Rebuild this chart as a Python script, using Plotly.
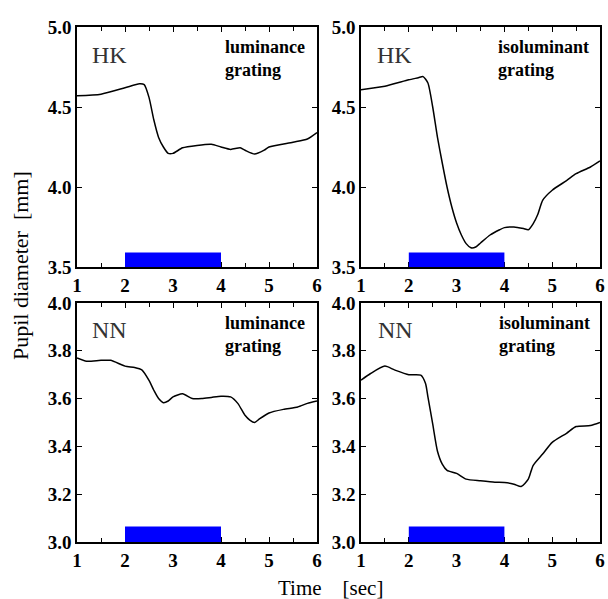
import plotly.graph_objects as go

# ---------------- data ----------------
# HK, luminance grating
t_hk_lum = [1.0, 1.5, 2.0, 2.3, 2.4, 2.5, 2.6, 2.7, 2.8, 2.9, 3.0, 3.2, 3.5, 3.8, 4.0, 4.2, 4.4, 4.5, 4.7, 4.9, 5.0, 5.5, 5.8, 6.0]
d_hk_lum = [4.57, 4.58, 4.62, 4.645, 4.64, 4.56, 4.42, 4.31, 4.25, 4.21, 4.21, 4.245, 4.26, 4.267, 4.25, 4.235, 4.245, 4.23, 4.206, 4.23, 4.25, 4.28, 4.30, 4.34]

# HK, isoluminant grating
t_hk_iso = [1.0, 1.5, 2.0, 2.2, 2.3, 2.4, 2.5, 2.6, 2.7, 2.8, 2.9, 3.0, 3.1, 3.2, 3.3, 3.4, 3.5, 3.7, 3.9, 4.0, 4.2, 4.4, 4.5, 4.6, 4.7, 4.8, 5.0, 5.3, 5.5, 5.8, 6.0]
d_hk_iso = [4.608, 4.63, 4.67, 4.683, 4.69, 4.65, 4.50, 4.31, 4.15, 4.00, 3.875, 3.775, 3.70, 3.646, 3.62, 3.625, 3.65, 3.70, 3.733, 3.746, 3.75, 3.74, 3.733, 3.77, 3.83, 3.917, 3.98, 4.04, 4.083, 4.125, 4.163]

# NN, luminance grating
t_nn_lum = [1.0, 1.2, 1.5, 1.7, 2.0, 2.2, 2.35, 2.5, 2.6, 2.7, 2.8, 2.9, 3.0, 3.2, 3.4, 3.6, 3.8, 4.0, 4.2, 4.35, 4.5, 4.6, 4.7, 4.8, 5.0, 5.3, 5.6, 5.8, 6.0]
d_nn_lum = [3.77, 3.756, 3.76, 3.76, 3.736, 3.73, 3.72, 3.676, 3.635, 3.60, 3.583, 3.59, 3.607, 3.62, 3.60, 3.60, 3.605, 3.61, 3.607, 3.58, 3.53, 3.51, 3.50, 3.515, 3.54, 3.555, 3.565, 3.58, 3.59]

# NN, isoluminant grating
t_nn_iso = [1.0, 1.2, 1.5, 1.7, 2.0, 2.25, 2.35, 2.4, 2.5, 2.6, 2.7, 2.8, 3.0, 3.2, 3.5, 3.8, 4.0, 4.2, 4.35, 4.5, 4.6, 4.8, 5.0, 5.3, 5.5, 5.8, 6.0]
d_nn_iso = [3.677, 3.705, 3.736, 3.72, 3.70, 3.698, 3.663, 3.607, 3.494, 3.38, 3.326, 3.30, 3.287, 3.263, 3.256, 3.25, 3.249, 3.242, 3.232, 3.263, 3.32, 3.368, 3.417, 3.455, 3.483, 3.487, 3.50]

# stimulus period (sec) and marker-bar heights (mm)
stim_period = [2.0, 4.0]
bar_top = [3.59, 3.59, 3.065, 3.065]

subjects = ["HK", "HK", "NN", "NN"]
conditions = ["luminance<br>grating", "isoluminant<br>grating", "luminance<br>grating", "isoluminant<br>grating"]
y_ranges = [[3.5, 5.0], [3.5, 5.0], [3.0, 4.0], [3.0, 4.0]]
y_dticks = [0.5, 0.5, 0.2, 0.2]
x_range = [1, 6]

series = [(t_hk_lum, d_hk_lum), (t_hk_iso, d_hk_iso), (t_nn_lum, d_nn_lum), (t_nn_iso, d_nn_iso)]

# ---------------- layout ----------------
W, H = 608, 599
x_domains = [[77 / W, 317 / W], [361 / W, 600 / W], [77 / W, 317 / W], [361 / W, 600 / W]]
y_domains = [[1 - 267 / H, 1 - 27 / H], [1 - 267 / H, 1 - 27 / H], [1 - 542 / H, 1 - 303 / H], [1 - 542 / H, 1 - 303 / H]]
subj_x = [0.137, 0.142, 0.137, 0.146]
cond_x = [0.61, 0.565, 0.61, 0.57]

tick_font = dict(family="Liberation Serif", size=19, color="black", weight="bold")

fig = go.Figure()
layout = dict(
    width=W, height=H,
    autosize=False,
    margin=dict(l=0, r=0, t=0, b=0, pad=0, autoexpand=False),
    paper_bgcolor="white", plot_bgcolor="white",
    showlegend=False,
    shapes=[], annotations=[],
)

for i, (t, d) in enumerate(series):
    n = "" if i == 0 else str(i + 1)
    xa, ya = "x" + n, "y" + n
    fig.add_trace(go.Scatter(x=t, y=d, mode="lines", xaxis=xa, yaxis=ya,
                             line=dict(color="black", width=1.5, shape="spline", smoothing=0.6),
                             hoverinfo="skip"))
    common = dict(showgrid=False, zeroline=False, showline=True, linecolor="black", linewidth=1.5,
                  mirror="ticks", ticks="inside", ticklen=5, tickwidth=1.2, tickcolor="black",
                  tickfont=tick_font, automargin=False, fixedrange=True)
    layout["xaxis" + n] = dict(domain=x_domains[i], range=x_range, dtick=1, tick0=1,
                               anchor=ya, minor=dict(dtick=0.5, ticks="inside", ticklen=4, tickcolor="black"),
                               **common)
    layout["yaxis" + n] = dict(domain=y_domains[i], range=y_ranges[i], dtick=y_dticks[i],
                               tick0=y_ranges[i][0], tickformat=".1f", anchor=xa, **common)
    layout["shapes"].append(dict(type="rect", xref=xa, yref=ya, x0=stim_period[0], x1=stim_period[1],
                                 y0=y_ranges[i][0], y1=bar_top[i], fillcolor="#0000ff", line=dict(width=0),
                                 layer="above"))
    layout["annotations"].append(dict(text=subjects[i], xref=xa + " domain", yref=ya + " domain",
                                      x=subj_x[i], y=0.885, showarrow=False, xanchor="center", yanchor="middle",
                                      font=dict(family="Liberation Serif", size=24, color="#333333")))
    layout["annotations"].append(dict(text=conditions[i], xref=xa + " domain", yref=ya + " domain",
                                      x=cond_x[i], y=0.87, showarrow=False, xanchor="left", yanchor="middle",
                                      align="left",
                                      font=dict(family="Liberation Serif", size=18, color="black", weight="bold")))

layout["annotations"].append(dict(text="Pupil diameter\u00a0 [mm]", xref="paper", yref="paper",
                                  x=20 / W, y=1 - 266 / H, textangle=-90, showarrow=False,
                                  xanchor="center", yanchor="middle",
                                  font=dict(family="Liberation Serif", size=22, color="black")))
layout["annotations"].append(dict(text="Time\u00a0\u00a0\u00a0 [sec]", xref="paper", yref="paper",
                                  x=330 / W, y=1 - 588 / H, showarrow=False,
                                  xanchor="center", yanchor="middle",
                                  font=dict(family="Liberation Serif", size=21, color="black")))

fig.update_layout(**layout)
fig.write_html("out.html", config={"responsive": False, "displayModeBar": False},
               post_script="document.body.style.margin='0';document.body.style.overflow='hidden';")
